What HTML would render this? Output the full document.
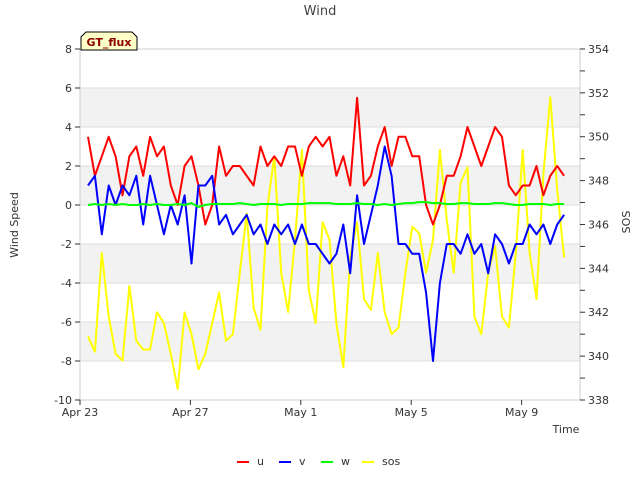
<!DOCTYPE html>
<html><head><meta charset="utf-8"><style>
body{margin:0;background:#fff;}
svg text{font-family:"DejaVu Sans","Liberation Sans",sans-serif;}
</style></head><body>
<svg id="chart" width="640" height="480" viewBox="0 0 640 480">
<g id="bands"></g><g id="grid"></g>
<rect x="80" y="49" width="500" height="351" fill="none" stroke="#ccc"/>
<g id="axes"></g><g id="series"></g>
<text x="320" y="15" text-anchor="middle" font-size="13" fill="#444">Wind</text>
<text x="566" y="433" text-anchor="middle" font-size="11" fill="#333">Time</text>
<text transform="translate(18,225) rotate(-90)" text-anchor="middle" font-size="11" fill="#333">Wind Speed</text>
<text transform="translate(630,222) rotate(-90)" text-anchor="middle" font-size="11" fill="#333">SOS</text>
<g>
<path d="M81,50 L81,37 L86,32 L132,32 L137,37 L137,50 Z" fill="#ffffc8" stroke="#000"/>
<text x="109" y="46" text-anchor="middle" font-size="11" font-weight="bold" fill="#8b0000">GT_flux</text></g>
<g id="legend"></g>
</svg>
<script>
const uVals=[3.5,1.5,2.5,3.5,2.5,0.5,2.5,3,1.5,3.5,2.5,3,1,0,2,2.5,1,-1,0,3,1.5,2,2,1.5,1,3,2,2.5,2,3,3,1.5,3,3.5,3,3.5,1.5,2.5,1,5.5,1,1.5,3,4,2,3.5,3.5,2.5,2.5,0,-1,0,1.5,1.5,2.5,4,3,2,3,4,3.5,1,0.5,1,1,2,0.5,1.5,2,1.5];
const vVals=[1,1.5,-1.5,1,0,1,0.5,1.5,-1,1.5,0,-1.5,0,-1,0.5,-3,1,1,1.5,-1,-0.5,-1.5,-1,-0.5,-1.5,-1,-2,-1,-1.5,-1,-2,-1,-2,-2,-2.5,-3,-2.5,-1,-3.5,0.5,-2,-0.5,1,3,1.5,-2,-2,-2.5,-2.5,-4.5,-8,-4,-2,-2,-2.5,-1.5,-2.5,-2,-3.5,-1.5,-2,-3,-2,-2,-1,-1.5,-1,-2,-1,-0.5];
const wVals=[0,0.05,0,0.05,0,0.05,0,0,0.05,0,0.05,0,0,0.05,0,0.1,-0.1,0,0.05,0.05,0.05,0.05,0.1,0.05,0,0.05,0.05,0.05,0,0.05,0.05,0.05,0.1,0.1,0.1,0.1,0.05,0.05,0.05,0.1,0.05,0.05,0,0.05,0,0.05,0.1,0.1,0.15,0.15,0.1,0.1,0.05,0.05,0.1,0.1,0.05,0.05,0.05,0.1,0.1,0.05,0,0,0.05,0.05,0.05,0,0.05,0.05];
const sosVals=[340.9,340.2,344.7,341.8,340.1,339.8,343.2,340.7,340.3,340.3,342,341.5,340.1,338.5,342,341,339.4,340.1,341.5,342.9,340.7,341,343.8,346.5,342.2,341.2,346.8,349.1,343.8,342,345.3,349.4,343,341.5,346.1,345.3,341.5,339.5,344.5,346.1,342.6,342.1,344.7,342,341,341.3,343.8,345.9,345.6,343.8,345.3,349.4,346.2,343.8,347.9,348.6,341.8,341,343.8,345,341.8,341.3,344.7,349.4,344.7,342.6,348.3,351.8,347.6,344.5];
const yTicks=[-10,-8,-6,-4,-2,0,2,4,6,8];
const y2Ticks=[338,340,342,344,346,348,350,352,354];
const xTickLabels=["Apr 23","Apr 27","May 1","May 5","May 9"];
const xTickDays=[0,4,8,12,16];
const t0=0.29, dt=0.25;
const NS='http://www.w3.org/2000/svg';
const X=d=>80+d*27.6, Y=v=>400-(v+10)*19.5, Y2=v=>400-(v-338)*21.94;
function mk(tag,attrs,parent){const e=document.createElementNS(NS,tag);for(const k in attrs)e.setAttribute(k,attrs[k]);document.getElementById(parent).appendChild(e);return e;}
for(let i=0;i<yTicks.length-1;i++){if(i%2===1){const r=mk('rect',{x:80,y:Y(yTicks[i+1]),width:500,height:Y(yTicks[i])-Y(yTicks[i+1]),fill:'#f2f2f2'},'bands');

}}
yTicks.forEach(v=>{const l=mk('line',{x1:80,x2:580,y1:Y(v),y2:Y(v),stroke:'#ddd'},'grid');


mk('line',{x1:75,x2:80,y1:Y(v),y2:Y(v),stroke:'#333'},'axes');
const t=mk('text',{x:72,y:Y(v)+4,'text-anchor':'end','font-size':11,fill:'#333'},'axes');t.textContent=v;

});
for(let v=338;v<=354;v++){mk('line',{x1:580,x2:585,y1:Y2(v),y2:Y2(v),stroke:'#333'},'axes');}
y2Ticks.forEach(v=>{const t=mk('text',{x:588,y:Y2(v)+4,'font-size':11,fill:'#333'},'axes');t.textContent=v;

});
xTickDays.forEach((d,i)=>{mk('line',{x1:X(d),x2:X(d),y1:400,y2:405,stroke:'#333'},'axes');
const t=mk('text',{x:X(d),y:416,'text-anchor':'middle','font-size':11,fill:'#333'},'axes');t.textContent=xTickLabels[i];

});
function line(vals,yf,color,name){const p=mk('polyline',{points:vals.map((v,i)=>X(t0+i*dt).toFixed(1)+','+yf(v).toFixed(1)).join(' '),fill:'none',stroke:color,'stroke-width':2,'stroke-linejoin':'round'},'series');

}
line(sosVals,Y2,'#ffff00','series-sos');
line(uVals,Y,'#ff0000','series-u');
line(vVals,Y,'#0000ff','series-v');
line(wVals,Y,'#00ff00','series-w');
[['u','#ff0000',237],['v','#0000ff',279],['w','#00ff00',321],['sos','#ffff00',362]].forEach(([n,c,x])=>{
const g=mk('g',{},'legend');


const l=document.createElementNS(NS,'line');l.setAttribute('x1',x);l.setAttribute('x2',x+12);l.setAttribute('y1',462);l.setAttribute('y2',462);l.setAttribute('stroke',c);l.setAttribute('stroke-width',2);g.appendChild(l);
const t=document.createElementNS(NS,'text');t.setAttribute('x',x+20);t.setAttribute('y',465);t.setAttribute('font-size',11);t.setAttribute('fill','#333');t.textContent=n;g.appendChild(t);});
</script>
</body></html>
